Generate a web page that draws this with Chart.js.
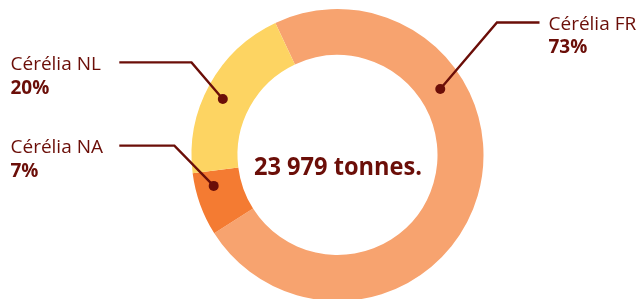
<!DOCTYPE html>
<html><head><meta charset="utf-8">
<script src="https://cdn.jsdelivr.net/npm/chart.js@4/dist/chart.umd.min.js"></script>
<style>html,body{margin:0;padding:0;background:#fff;overflow:hidden}</style>
</head><body>
<canvas id="c" width="643" height="299" style="display:block;width:643px;height:299px"></canvas>
<script>
// ---- data ----
const categories = ['Cérélia FR', 'Cérélia NA', 'Cérélia NL'];
const shares = [73, 7, 20];
const shareLabels = ['73%', '7%', '20%'];
const centerLabel = '23 979 tonnes.';

// ---- styles / layout ----
const sliceColors = ['#F7A36F', '#F47B32', '#FDD462'];
const textColor = '#6B0E08';
const FONT = '"Open Sans", "Noto Sans", sans-serif';
const labelLayout = [
  {frac: 0.314, rfrac: 0.48, ex: 56.7, ey: -66.6, endX: 539.5, tx: 548.5, align: 'left', nameY: 30, pctY: 53.3},
  {frac: 0.73,  rfrac: 0.60, ex: -39.3, ey: -40.3, endX: 119.3, tx: 10.5, align: 'left', nameY: 153.3, pctY: 176.7},
  {frac: 0.461, rfrac: 0.60, ex: -31.3, ey: -36.7, endX: 119.3, tx: 10.5, align: 'left', nameY: 70, pctY: 94.3}
];

const leaderPlugin = {
  id: 'leaders',
  afterDatasetsDraw(chart) {
    const ctx = chart.ctx;
    const arcs = chart.getDatasetMeta(0).data;
    ctx.save();
    arcs.forEach((arc, i) => {
      const L = labelLayout[i];
      const p = arc.getProps(['x', 'y', 'startAngle', 'endAngle', 'innerRadius', 'outerRadius'], true);
      const a = p.startAngle + L.frac * (p.endAngle - p.startAngle);
      const r = p.innerRadius + L.rfrac * (p.outerRadius - p.innerRadius);
      const dx = p.x + Math.cos(a) * r, dy = p.y + Math.sin(a) * r;
      const bx = dx + L.ex, by = dy + L.ey;
      ctx.strokeStyle = textColor;
      ctx.lineWidth = 2.4;
      ctx.lineJoin = 'miter';
      ctx.beginPath();
      ctx.moveTo(dx, dy);
      ctx.lineTo(bx, by);
      ctx.lineTo(L.endX, by);
      ctx.stroke();
      ctx.fillStyle = textColor;
      ctx.beginPath();
      ctx.arc(dx, dy, 5, 0, Math.PI * 2);
      ctx.fill();
      ctx.textAlign = L.align;
      ctx.textBaseline = 'alphabetic';
      ctx.font = '400 19px ' + FONT;
      ctx.fillText(categories[i], L.tx, L.nameY);
      ctx.font = '700 19px ' + FONT;
      ctx.fillText(shareLabels[i], L.tx, L.pctY);
    });
    const p0 = arcs[0];
    ctx.font = '700 25px ' + FONT;
    ctx.textAlign = 'center';
    ctx.textBaseline = 'alphabetic';
    ctx.fillText(centerLabel, p0.x + 0.5, p0.y + 20, 168);
    ctx.restore();
  }
};

new Chart(document.getElementById('c'), {
  type: 'doughnut',
  data: {
    labels: categories,
    datasets: [{
      data: shares,
      backgroundColor: sliceColors,
      borderWidth: 0,
      radius: 146,
      cutout: '68.5%'
    }]
  },
  options: {
    responsive: false,
    animation: false,
    devicePixelRatio: 1,
    rotation: -25.2,
    layout: {padding: {left: 32, right: 0, top: 11, bottom: 0}},
    plugins: {legend: {display: false}, tooltip: {enabled: false}}
  },
  plugins: [leaderPlugin]
});
</script>
</body></html>
